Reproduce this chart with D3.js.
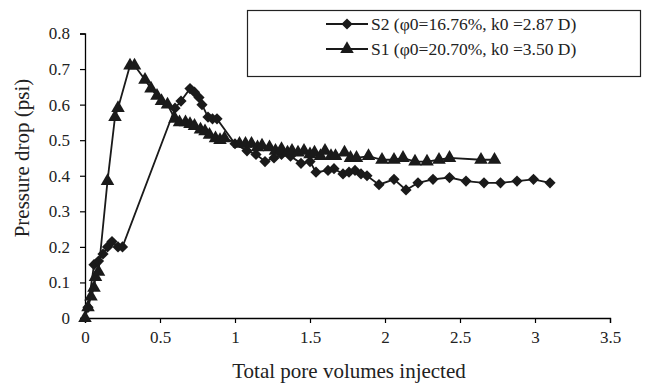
<!DOCTYPE html>
<html>
<head>
<meta charset="utf-8">
<script src="https://cdn.jsdelivr.net/npm/d3@7"></script>
<style>
  body { margin: 0; background: #fff; }
  svg text { font-family: "Liberation Serif", "Times New Roman", serif; }
</style>
</head>
<body>
<svg width="646" height="387"></svg>
<script>
// S2 (diamonds)
var s2X = [0.02, 0.06, 0.09, 0.12, 0.15, 0.18, 0.22, 0.25, 0.60, 0.64, 0.70, 0.73, 0.76, 0.78, 0.82, 0.85, 0.88,
           1.0, 1.08, 1.14, 1.2, 1.26, 1.31, 1.37, 1.44, 1.5, 1.54, 1.62, 1.66, 1.72, 1.76, 1.8, 1.84, 1.88,
           1.96, 2.06, 2.14, 2.22, 2.32, 2.43, 2.54, 2.66, 2.77, 2.88, 2.99, 3.1];
var s2Y = [0.03, 0.15, 0.16, 0.18, 0.2, 0.215, 0.2, 0.2, 0.59, 0.61, 0.645, 0.635, 0.62, 0.6, 0.565, 0.56, 0.56,
           0.49, 0.47, 0.46, 0.44, 0.45, 0.46, 0.455, 0.435, 0.44, 0.41, 0.415, 0.42, 0.405, 0.41, 0.415, 0.405, 0.4,
           0.375, 0.39, 0.36, 0.38, 0.39, 0.395, 0.385, 0.38, 0.38, 0.385, 0.39, 0.38];
// S1 (triangles)
var s1X = [0, 0.02, 0.04, 0.06, 0.07, 0.09, 0.15, 0.20, 0.22, 0.30, 0.33, 0.40, 0.44, 0.48, 0.51, 0.55, 0.60,
           0.63, 0.67, 0.70, 0.73, 0.77, 0.80, 0.83, 0.87, 0.90, 0.93, 1.03, 1.07, 1.11, 1.15, 1.18, 1.23, 1.27,
           1.31, 1.35, 1.38, 1.42, 1.46, 1.5, 1.53, 1.57, 1.6, 1.64, 1.67, 1.73, 1.77, 1.81, 1.89, 1.98, 2.06,
           2.12, 2.2, 2.28, 2.36, 2.43, 2.64, 2.73];
var s1Y = [0, 0.03, 0.06, 0.085, 0.115, 0.13, 0.385, 0.565, 0.59, 0.71, 0.71, 0.67, 0.645, 0.625, 0.61, 0.6, 0.56,
           0.55, 0.55, 0.545, 0.54, 0.53, 0.525, 0.515, 0.505, 0.5, 0.505, 0.49, 0.49, 0.49, 0.48, 0.485, 0.48, 0.47,
           0.475, 0.465, 0.47, 0.465, 0.47, 0.46, 0.465, 0.455, 0.47, 0.455, 0.455, 0.465, 0.45, 0.45, 0.455, 0.445,
           0.445, 0.45, 0.44, 0.44, 0.445, 0.45, 0.445, 0.445];
var xTicks = [0, 0.5, 1, 1.5, 2, 2.5, 3, 3.5];
var yTicks = [0, 0.1, 0.2, 0.3, 0.4, 0.5, 0.6, 0.7, 0.8];
var legendLabels = ["S2 (\u03c60=16.76%, k0 =2.87 D)", "S1 (\u03c60=20.70%, k0 =3.50 D)"];

var svg = d3.select("svg");
var x = d3.scaleLinear().domain([0, 3.5]).range([85, 610]);
var y = d3.scaleLinear().domain([0, 0.8]).range([318, 33.5]);

var xAxis = svg.append("g")
    .attr("transform", "translate(0," + y(0) + ")")
    .call(d3.axisBottom(x).tickValues(xTicks).tickSize(5).tickPadding(8).tickFormat(d3.format("")));
var yAxis = svg.append("g")
    .attr("transform", "translate(" + x(0) + ",0)")
    .call(d3.axisLeft(y).tickValues(yTicks).tickSize(5).tickPadding(10).tickFormat(d3.format("")));
[xAxis, yAxis].forEach(function(a){
    a.attr("font-family", null).attr("font-size", null);
    a.select(".domain").attr("stroke", "#000").attr("stroke-width", 1.3);
    a.selectAll(".tick line").attr("stroke", "#000").attr("stroke-width", 1.2);
    a.selectAll(".tick text").attr("fill", "#222").style("font-size", "17px");
});

svg.append("text")
    .attr("x", 349).attr("y", 378)
    .attr("text-anchor", "middle")
    .style("font-size", "21px").attr("fill", "#222")
    .text("Total pore volumes injected");
svg.append("text")
    .attr("transform", "translate(29,158) rotate(-90)")
    .attr("text-anchor", "middle")
    .style("font-size", "21px").attr("fill", "#222")
    .text("Pressure drop (psi)");

var diamond = d3.symbol().type(d3.symbolDiamond2).size(80);
var triangle = d3.symbol().type(d3.symbolTriangle).size(80);
var line = d3.line().x(function(d){ return x(d[0]); }).y(function(d){ return y(d[1]); });

function drawSeries(xs, ys, sym){
    var pts = xs.map(function(v, i){ return [v, ys[i]]; });
    svg.append("path").datum(pts)
        .attr("d", line).attr("fill", "none")
        .attr("stroke", "#1a1a1a").attr("stroke-width", 1.8);
    svg.selectAll(null).data(pts).enter().append("path")
        .attr("d", sym)
        .attr("transform", function(d){ return "translate(" + x(d[0]) + "," + y(d[1]) + ")"; })
        .attr("fill", "#1a1a1a");
}
drawSeries(s2X, s2Y, diamond);
drawSeries(s1X, s1Y, triangle);

// legend
var lg = svg.append("g");
lg.append("rect").attr("x", 247.5).attr("y", 10.5).attr("width", 393).attr("height", 66)
    .attr("fill", "#fff").attr("stroke", "#222").attr("stroke-width", 1.2);
var syms = [diamond, triangle];
legendLabels.forEach(function(t, i){
    var cy = 24 + i * 25;
    lg.append("line").attr("x1", 326).attr("x2", 368).attr("y1", cy).attr("y2", cy)
        .attr("stroke", "#1a1a1a").attr("stroke-width", 1.8);
    lg.append("path").attr("d", syms[i]).attr("transform", "translate(347," + cy + ")").attr("fill", "#1a1a1a");
    lg.append("text").attr("x", 371).attr("y", cy + 6)
        .style("font-size", "17.5px").attr("fill", "#222").text(t);
});
</script>
</body>
</html>
